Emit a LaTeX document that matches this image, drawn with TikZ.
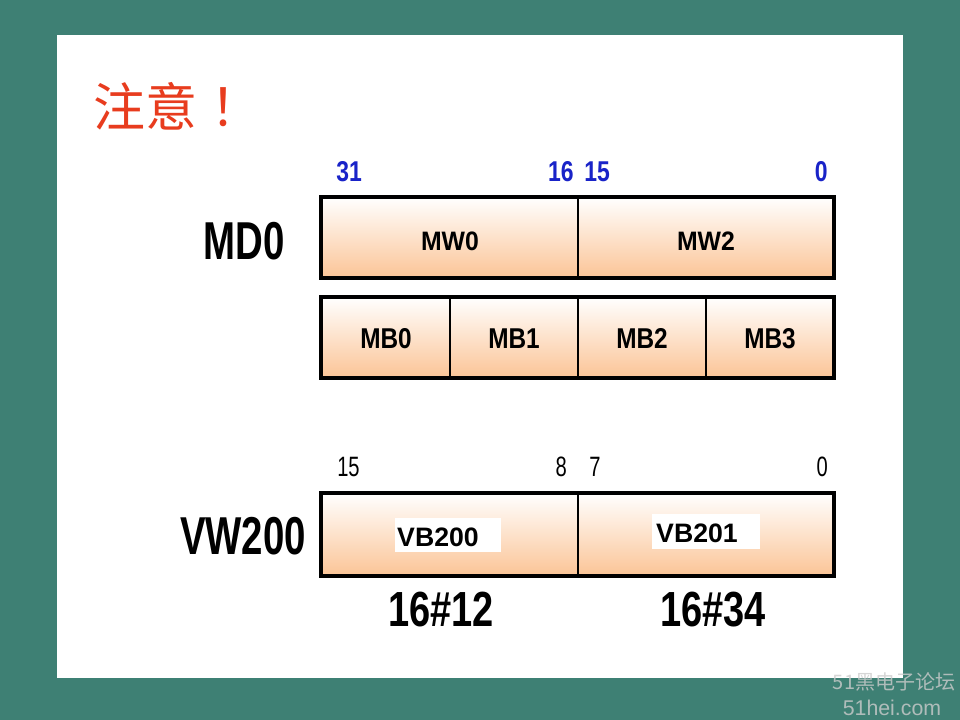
\documentclass[tikz,border=0pt]{standalone}
\usepackage{fontspec}
\usepackage{graphicx}
\setmainfont{Liberation Sans}
\newfontfamily\cjk{Noto Sans CJK SC}
\usetikzlibrary{shadings}
\definecolor{teal0}{RGB}{62,128,116}
\definecolor{peach}{RGB}{251,196,150}
\definecolor{titlered}{RGB}{232,60,30}
\definecolor{numblue}{RGB}{25,35,200}
\newcommand{\nar}[2]{\scalebox{#1}[1]{#2}}
\tikzset{
  cell/.style={draw=black, line width=2.4pt, top color=white, bottom color=peach},
  divline/.style={draw=black, line width=1.7pt},
  bignum/.style={font=\bfseries\fontsize{40pt}{42pt}\selectfont, inner sep=0pt},
  bluenum/.style={font=\bfseries\fontsize{21.5pt}{22pt}\selectfont, text=numblue, inner sep=0pt},
  blknum/.style={font=\fontsize{21pt}{22pt}\selectfont, text=black, inner sep=0pt},
  celltxt/.style={font=\bfseries\fontsize{20pt}{21pt}\selectfont, inner sep=0pt, anchor=base},
  bytetxt/.style={font=\bfseries\fontsize{21.5pt}{22pt}\selectfont, inner sep=0pt, anchor=base},
  hexnum/.style={font=\bfseries\fontsize{37pt}{39pt}\selectfont, inner sep=0pt},
}
\begin{document}
\begin{tikzpicture}[x=0.75pt,y=-0.75pt]
\useasboundingbox (0,0) rectangle (960,720);
\fill[teal0] (0,0) rectangle (960,720);
\fill[white] (57,35) rectangle (903,678);
% title
\node[text=titlered, font=\cjk\fontsize{39pt}{41pt}\selectfont, inner sep=0pt, anchor=west] (title) at (93,106) {注意\hspace{10pt}！};
% top bit numbers
\node[bluenum, anchor=west] (n31) at (336,172) {\nar{0.8}{31}};
\node[bluenum, anchor=east] (n16) at (574,172) {\nar{0.8}{16}};
\node[bluenum, anchor=west] (n15) at (584,172) {\nar{0.8}{15}};
\node[bluenum, anchor=east] (n0) at (828,172) {\nar{0.8}{0}};
% MD0
\node[bignum] (md0) at (244,241) {\nar{0.72}{MD0}};
\path[cell] (321,197) rectangle (834,278);
\draw[divline] (578,197) -- (578,278);
\node[celltxt] (mw0) at (450,251) {\nar{0.93}{MW0}};
\node[celltxt] (mw2) at (706,251) {\nar{0.93}{MW2}};
% bytes
\path[cell] (321,297) rectangle (834,378);
\draw[divline] (450,297) -- (450,378);
\draw[divline] (578,297) -- (578,378);
\draw[divline] (706,297) -- (706,378);
\node[bytetxt] (mb0) at (386,349) {\nar{0.85}{MB0}};
\node[bytetxt] (mb1) at (514,349) {\nar{0.85}{MB1}};
\node[bytetxt] (mb2) at (642,349) {\nar{0.85}{MB2}};
\node[bytetxt] (mb3) at (770,349) {\nar{0.85}{MB3}};
% second row numbers
\node[blknum, anchor=west] (m15) at (337,467) {\nar{0.72}{15}};
\node[blknum, anchor=east] (m8) at (567,467) {\nar{0.72}{8}};
\node[blknum, anchor=west] (m7) at (589,467) {\nar{0.72}{7}};
\node[blknum, anchor=east] (m0) at (828,467) {\nar{0.72}{0}};
% VW200
\node[bignum] (vw) at (243,536) {\nar{0.72}{VW200}};
\path[cell] (321,493) rectangle (834,576);
\draw[divline] (578,493) -- (578,576);
\fill[white] (395,518) rectangle (501,552);
\fill[white] (652,514) rectangle (760,549);
\node[celltxt] (vb200) at (438,546) {VB200};
\node[celltxt] (vb201) at (697,542) {VB201};
% values
\node[hexnum] (h12) at (441,610) {\nar{0.77}{16\#12}};
\node[hexnum] (h34) at (713,610) {\nar{0.77}{16\#34}};
% watermark
\node[text=gray!40, font=\cjk\fontsize{15pt}{16pt}\selectfont, inner sep=0pt, opacity=0.8] (wm1) at (894,682) {51黑电子论坛};
\node[text=gray!40, font=\fontsize{16pt}{17pt}\selectfont, inner sep=0pt, opacity=0.8] (wm2) at (892,708) {51hei.com};
\end{tikzpicture}
\end{document}
